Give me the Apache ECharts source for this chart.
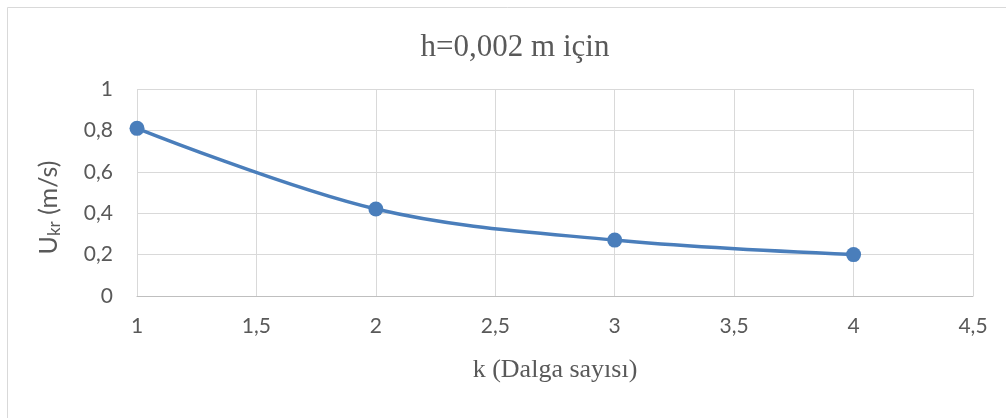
<!DOCTYPE html>
<html>
<head>
<meta charset="utf-8">
<script src="https://cdn.jsdelivr.net/npm/echarts@6/dist/echarts.min.js"></script>
<style>
  html, body { margin: 0; padding: 0; background: #ffffff; }
  #chart { width: 1006px; height: 418px; }
</style>
</head>
<body>
<div id="chart"></div>
<script>
// Critical velocity vs. wave number for h = 0.002 m
const waveNumbers = [1, 2, 3, 4];
const criticalVelocity = [0.81, 0.42, 0.27, 0.20];
const titleText = 'h=0,002 m için';
const xAxisTitle = 'k (Dalga sayısı)';

const comma = v => String(v).replace('.', ',');

const chart = echarts.init(document.getElementById('chart'), null, { renderer: 'canvas' });
chart.setOption({
  animation: false,
  backgroundColor: '#ffffff',
  graphic: [{
    type: 'rect',
    shape: { x: 7.5, y: 7.5, width: 1100, height: 500 },
    style: { fill: 'none', stroke: '#d9d9d9', lineWidth: 1 },
    silent: true
  }],
  title: {
    text: titleText,
    left: 510,
    top: 27,
    textAlign: 'center',
    textStyle: { fontFamily: 'Liberation Serif', fontSize: 31, fontWeight: 'normal', color: '#595959' }
  },
  grid: { left: 137, right: 33, top: 89, bottom: 122 },
  xAxis: {
    type: 'value',
    min: 1, max: 4.5, interval: 0.5,
    name: xAxisTitle,
    nameLocation: 'middle',
    nameGap: 61,
    nameTextStyle: { fontFamily: 'Liberation Serif', fontSize: 26, color: '#595959' },
    axisLine: { show: true, lineStyle: { color: '#bfbfbf', width: 1 } },
    axisTick: { show: false },
    axisLabel: { formatter: comma, margin: 20, fontFamily: 'Lato', fontSize: 21, color: '#595959' },
    splitLine: { show: true, lineStyle: { color: '#d9d9d9', width: 1 } }
  },
  yAxis: {
    type: 'value',
    min: 0, max: 1, interval: 0.2,
    name: '{u|U}{s|kr}{u| (m/s)}',
    nameLocation: 'middle',
    nameGap: 74,
    nameRotate: 90,
    nameTextStyle: {
      padding: [0, 30, 0, 0],
      rich: {
        u: { fontFamily: 'Lato', fontSize: 25, color: '#595959' },
        s: { fontFamily: 'Lato', fontSize: 17, color: '#595959', padding: [12, 0, 0, 0] }
      }
    },
    axisLine: { show: false },
    axisTick: { show: false },
    axisLabel: { formatter: comma, margin: 24, fontFamily: 'Lato', fontSize: 21, color: '#595959' },
    splitLine: { show: true, lineStyle: { color: '#d9d9d9', width: 1 } }
  },
  series: [{
    type: 'line',
    data: waveNumbers.map((k, i) => [k, criticalVelocity[i]]),
    smooth: 0.35,
    symbol: 'circle',
    symbolSize: 15,
    lineStyle: { color: '#4a7ebb', width: 3.5 },
    itemStyle: { color: '#4a7ebb' }
  }]
});
</script>
</body>
</html>
